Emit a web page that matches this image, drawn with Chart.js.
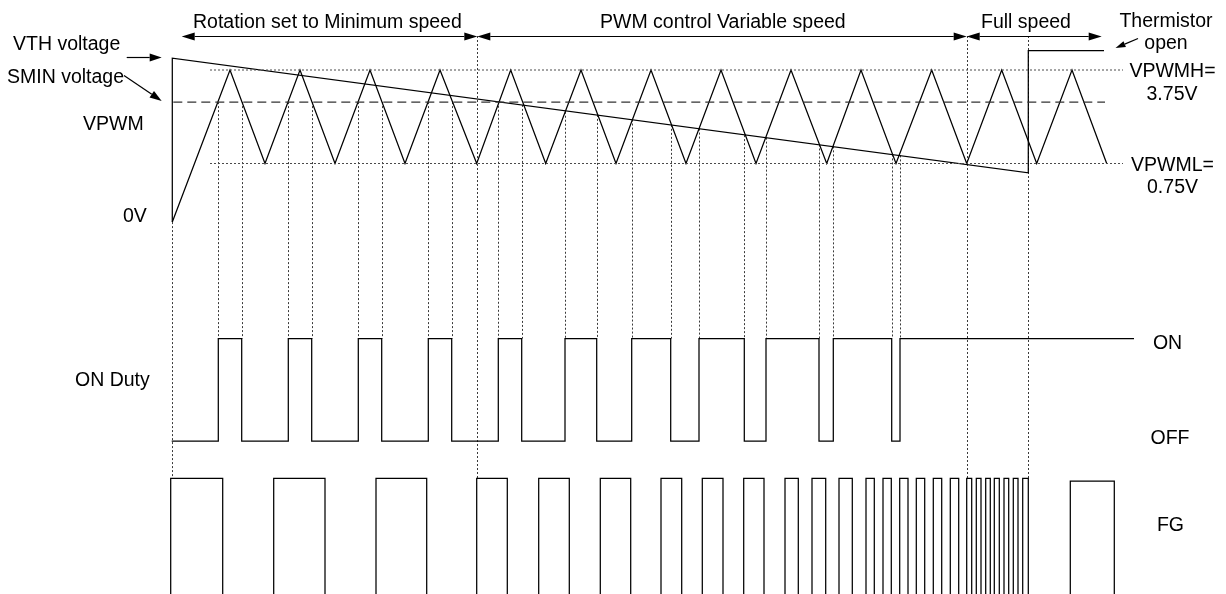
<!DOCTYPE html>
<html>
<head>
<meta charset="utf-8">
<script src="https://cdn.jsdelivr.net/npm/chart.js@4/dist/chart.umd.min.js"></script>
<style>
html,body{margin:0;padding:0;background:#fff;}
#wrap{width:1226px;height:594px;}
canvas{display:block;}
</style>
</head>
<body>
<div id="wrap"><canvas id="c" width="1226" height="594"></canvas></div>
<script>
// ---------------- DATA (time units along x) ----------------
// VPWM triangle wave: time of start, peaks and valleys; voltage at each
const TRI_T = [172.3, 230, 265, 300, 335, 370, 405, 440, 476.7, 510.7, 545.7, 581, 616, 651, 686,
               721, 756, 791, 826.7, 861, 896, 931.7, 966.7, 1001.7, 1036.7, 1072, 1106.7];
const TRI_V = [-1.13, 3.75, 0.75, 3.75, 0.75, 3.75, 0.75, 3.75, 0.75, 3.75, 0.75, 3.75, 0.75, 3.75, 0.75,
               3.75, 0.75, 3.75, 0.75, 3.75, 0.75, 3.75, 0.75, 3.75, 0.75, 3.75, 0.75];

// VTH (thermistor) voltage: rises at start, falls linearly, then thermistor open
const VTH_T = [172.3, 172.3, 1028.3, 1028.3, 1104];
const VTH_V = [-1.13, 4.13, 0.45, 4.37, 4.37];

// SMIN voltage (dashed)
const SMIN_T = [173.3, 1105];
const SMIN_V = [2.72, 2.72];

// VPWMH / VPWML reference levels (dotted)
const REF_T = [210, 1123];
const VPWMH = 3.75;
const VPWML = 0.75;

// ON duty: edge times and new level after each edge (1 = ON, 0 = OFF)
const DUTY_T = [171.7, 218.3, 241.7, 288.3, 311.7, 358.3, 381.7, 428.3, 451.7, 498.3, 521.7, 565,
                596.7, 631.7, 670.7, 699, 744.3, 766, 819, 833.3, 891.7, 900, 1134];
const DUTY_L = [0, 1, 0, 1, 0, 1, 0, 1, 0, 1, 0, 1, 0, 1, 0, 1, 0, 1, 0, 1, 0, 1, 1];

// Crossing voltage (threshold) at each ON-duty edge, for the dotted projection lines
const CROSS_T = [218.3, 241.7, 288.3, 311.7, 358.3, 381.7, 428.3, 451.7, 498.3, 521.7, 565, 596.7,
                 631.7, 670.7, 699, 744.3, 766, 819, 833.3, 891.7, 900];
const CROSS_V = [2.72, 2.72, 2.72, 2.72, 2.72, 2.72, 2.72, 2.72, 2.73, 2.63, 2.41, 2.31,
                 2.16, 1.99, 1.87, 1.66, 1.58, 1.36, 1.30, 1.04, 1.01];

// FG output: edge times and new level after each edge (1 = high, 0 = low)
const FG_T = [170.7, 170.7, 222.7, 273.7, 325, 376, 426.7, 476.7, 507.3, 538.7, 569.3, 600.3, 630.7,
              661, 681.7, 702.3, 723, 743.7, 764, 785, 798.3, 812, 825.7, 839, 852.3, 866, 874.3,
              883, 891.3, 899.7, 908, 916.3, 924.7, 933.3, 941.7, 950.3, 958.7, 966.7, 971.7,
              976.3, 981, 985.7, 990.3, 994.3, 999.3, 1004, 1008.7, 1013.3, 1018, 1022.7, 1028.3,
              1070.3, 1114.3];
const FG_L = [0, 1, 0, 1, 0, 1, 0, 1, 0, 1, 0, 1, 0,
              1, 0, 1, 0, 1, 0, 1, 0, 1, 0, 1, 0, 1, 0,
              1, 0, 1, 0, 1, 0, 1, 0, 1, 0, 1, 0,
              1, 0, 1, 0, 1, 0, 1, 0, 1, 0, 1, 0,
              0.98, 0];

// Region boundaries (time) and region names
const BOUNDARY_T = [172.3, 477.3, 966.7, 1028.3];
const REGION_NAMES = ["Rotation set to Minimum speed", "PWM control Variable speed", "Full speed"];
const REGION_SPANS = [[181.7, 477.3], [477.3, 966.7], [966.7, 1101.7]];

// ---------------- LAYOUT ----------------
const W = 1226, H = 594;
// linear axis covering the whole canvas height so that value v0 sits at pixel p0, v1 at p1
function span(v0, p0, v1, p1) {
  const k = (p0 - p1) / (v1 - v0);
  const min = v0 - (H - p0) / k;
  return { min: min, max: min + H / k };
}
const FONT = '19.5px "Liberation Sans", Arial, Helvetica, sans-serif';
const ARROW_ROW = 36;
const LABELS = [
  { t: "VTH voltage", x: 13, y: 50, a: "left" },
  { t: "SMIN voltage", x: 7, y: 82.7, a: "left" },
  { t: "VPWM", x: 83, y: 130, a: "left" },
  { t: "0V", x: 123, y: 221.7, a: "left" },
  { t: "ON Duty", x: 75, y: 386, a: "left" },
  { t: REGION_NAMES[0], x: 193, y: 28.3, a: "left" },
  { t: REGION_NAMES[1], x: 600, y: 27.5, a: "left" },
  { t: REGION_NAMES[2], x: 981, y: 27.5, a: "left" },
  { t: "Thermistor", x: 1166, y: 26.7, a: "center" },
  { t: "open", x: 1166, y: 48.5, a: "center" },
  { t: "VPWMH=", x: 1172.5, y: 77.3, a: "center" },
  { t: "3.75V", x: 1172, y: 100, a: "center" },
  { t: "VPWML=", x: 1172.5, y: 170.7, a: "center" },
  { t: "0.75V", x: 1172.5, y: 193.3, a: "center" },
  { t: "ON", x: 1167.5, y: 349.3, a: "center" },
  { t: "OFF", x: 1170, y: 444.3, a: "center" },
  { t: "FG", x: 1170.5, y: 531, a: "center" }
];
const POINTERS = [
  { from: [126.7, 57.5], to: [161.7, 57.5], len: 12, hw: 4 },
  { from: [124, 75.5], to: [161.7, 101], len: 12, hw: 4 },
  { from: [1138, 38.5], to: [1115.5, 48], len: 10, hw: 3.2 }
];

const pts = (T, V) => T.map((t, i) => ({ x: t, y: V[i] }));

function arrowHead(ctx, x1, y1, x2, y2, len, hw) {
  const ang = Math.atan2(y2 - y1, x2 - x1);
  const bx = x2 - len * Math.cos(ang), by = y2 - len * Math.sin(ang);
  const nx = -Math.sin(ang) * hw, ny = Math.cos(ang) * hw;
  ctx.beginPath();
  ctx.moveTo(x2, y2);
  ctx.lineTo(bx + nx, by + ny);
  ctx.lineTo(bx - nx, by - ny);
  ctx.closePath();
  ctx.fill();
  return [bx, by];
}

const diagramPlugin = {
  id: 'diagram',
  beforeDatasetsDraw(chart) {
    const { ctx, scales } = chart;
    const x = scales.x, yV = scales.yV, yD = scales.yDuty, yF = scales.yFG;
    ctx.save();
    ctx.strokeStyle = '#3a3a3a';
    ctx.lineWidth = 1;
    ctx.setLineDash([2, 2]);
    ctx.beginPath();
    const onPx = yD.getPixelForValue(1);
    CROSS_T.forEach((t, i) => {
      const px = Math.round(x.getPixelForValue(t)) + 0.5;
      ctx.moveTo(px, yV.getPixelForValue(CROSS_V[i]));
      ctx.lineTo(px, onPx);
    });
    const fgTop = yF.getPixelForValue(1);
    BOUNDARY_T.forEach((t, i) => {
      const px = Math.round(x.getPixelForValue(t)) + 0.5;
      const top = i === 0 ? yV.getPixelForValue(TRI_V[0]) : ARROW_ROW;
      ctx.moveTo(px, top);
      ctx.lineTo(px, fgTop);
    });
    ctx.stroke();
    ctx.restore();
  },
  afterDatasetsDraw(chart) {
    const { ctx, scales } = chart;
    const x = scales.x;
    ctx.save();
    ctx.strokeStyle = '#000';
    ctx.fillStyle = '#000';
    ctx.lineWidth = 1.2;
    ctx.setLineDash([]);
    // region span arrows
    REGION_SPANS.forEach(([a, b]) => {
      const xa = x.getPixelForValue(a), xb = x.getPixelForValue(b);
      const yy = ARROW_ROW + 0.5;
      const [b1] = arrowHead(ctx, xb, yy, xa, yy, 13, 4);
      const [b2] = arrowHead(ctx, xa, yy, xb, yy, 13, 4);
      ctx.beginPath();
      ctx.moveTo(b1, yy);
      ctx.lineTo(b2, yy);
      ctx.stroke();
    });
    // label pointers
    POINTERS.forEach(p => {
      const [bx, by] = arrowHead(ctx, p.from[0], p.from[1], p.to[0], p.to[1], p.len, p.hw);
      ctx.beginPath();
      ctx.moveTo(p.from[0], p.from[1]);
      ctx.lineTo(bx, by);
      ctx.stroke();
    });
    // texts
    ctx.font = FONT;
    ctx.textBaseline = 'alphabetic';
    LABELS.forEach(l => {
      ctx.textAlign = l.a;
      ctx.fillText(l.t, l.x, l.y);
    });
    ctx.restore();
  }
};

const solid = { borderColor: '#000', borderWidth: 1.25, pointRadius: 0, showLine: true, fill: false, tension: 0 };

new Chart(document.getElementById('c'), {
  type: 'scatter',
  data: {
    datasets: [
      Object.assign({ label: 'VPWMH', data: pts(REF_T, [VPWMH, VPWMH]), yAxisID: 'yV' }, solid,
        { borderColor: '#4a4a4a', borderWidth: 1, borderDash: [2, 2] }),
      Object.assign({ label: 'VPWML', data: pts(REF_T, [VPWML, VPWML]), yAxisID: 'yV' }, solid,
        { borderColor: '#4a4a4a', borderWidth: 1, borderDash: [2, 2] }),
      Object.assign({ label: 'SMIN voltage', data: pts(SMIN_T, SMIN_V), yAxisID: 'yV' }, solid,
        { borderColor: '#333', borderWidth: 1.2, borderDash: [9, 5] }),
      Object.assign({ label: 'VPWM', data: pts(TRI_T, TRI_V), yAxisID: 'yV' }, solid),
      Object.assign({ label: 'VTH voltage', data: pts(VTH_T, VTH_V), yAxisID: 'yV' }, solid),
      Object.assign({ label: 'ON Duty', data: pts(DUTY_T, DUTY_L), yAxisID: 'yDuty', stepped: 'before' }, solid),
      Object.assign({ label: 'FG', data: pts(FG_T, FG_L), yAxisID: 'yFG', stepped: 'before' }, solid)
    ]
  },
  options: {
    responsive: false,
    animation: false,
    devicePixelRatio: 1,
    layout: { padding: 0 },
    plugins: { legend: { display: false }, tooltip: { enabled: false }, title: { display: false } },
    events: [],
    scales: {
      x: { type: 'linear', display: false, min: 0, max: W, bounds: 'data', grace: 0 },
      yV: Object.assign({ type: 'linear', display: false, position: 'left', bounds: 'data', grace: 0 },
        span(0.75, 163.5, 3.75, 70)),
      yDuty: Object.assign({ type: 'linear', display: false, position: 'left', bounds: 'data', grace: 0 },
        span(0, 441, 1, 338.5)),
      yFG: Object.assign({ type: 'linear', display: false, position: 'left', bounds: 'data', grace: 0 },
        span(0, 620, 1, 478.3))
    }
  },
  plugins: [diagramPlugin]
});
</script>
</body>
</html>
